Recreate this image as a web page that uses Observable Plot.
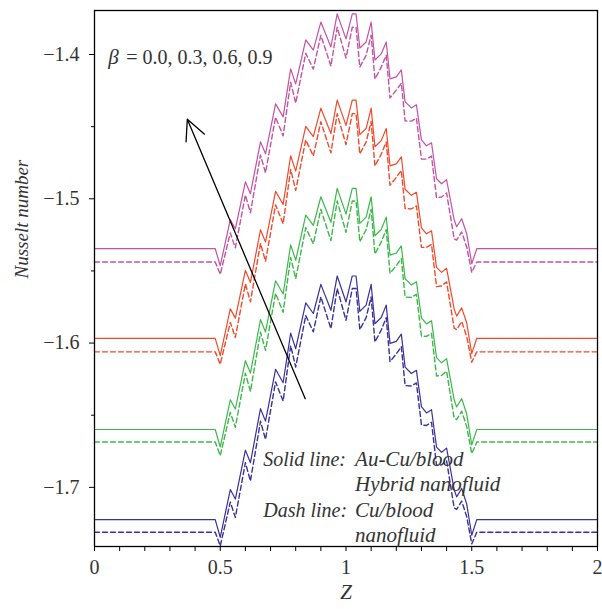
<!DOCTYPE html>
<html><head><meta charset="utf-8">
<script src="https://cdn.jsdelivr.net/npm/d3@7"></script>
<script src="https://cdn.jsdelivr.net/npm/@observablehq/plot@0.6"></script>
<style>body{margin:0;background:#fff}svg{display:block}</style>
</head><body><div id="chart"></div>
<script>
// Axial coordinate Z
const z = [0,0.48,0.50,0.54,0.56,0.60,0.62,0.66,0.68,0.72,0.75,0.78,0.80,0.84,0.87,0.90,0.94,0.965,1.00,1.025,1.04,1.055,1.08,1.10,1.115,1.14,1.16,1.175,1.20,1.22,1.235,1.26,1.28,1.30,1.32,1.34,1.36,1.38,1.40,1.43,1.44,1.46,1.48,1.50,1.52,2.0];

// beta = 0.9 (magenta)
const hybrid09 = [-1.5346,-1.5346,-1.5464,-1.5145,-1.5208,-1.4882,-1.4965,-1.4605,-1.4688,-1.4342,-1.4432,-1.4100,-1.4204,-1.3899,-1.3969,-1.3775,-1.3948,-1.3719,-1.3892,-1.3719,-1.3719,-1.3955,-1.3913,-1.3775,-1.4038,-1.3996,-1.3913,-1.4169,-1.4155,-1.4107,-1.4328,-1.4370,-1.4349,-1.4592,-1.4633,-1.4612,-1.4861,-1.4896,-1.4868,-1.5145,-1.5194,-1.5138,-1.5242,-1.5450,-1.5346,-1.5346];
const cu09 = [-1.5438,-1.5438,-1.5524,-1.5237,-1.5340,-1.4974,-1.5097,-1.4697,-1.4820,-1.4434,-1.4564,-1.4192,-1.4336,-1.3991,-1.4101,-1.3867,-1.4080,-1.3811,-1.4024,-1.3811,-1.3811,-1.4087,-1.4005,-1.3867,-1.4170,-1.4088,-1.4005,-1.4301,-1.4247,-1.4199,-1.4460,-1.4462,-1.4441,-1.4724,-1.4725,-1.4704,-1.4993,-1.4988,-1.4960,-1.5277,-1.5286,-1.5230,-1.5334,-1.5510,-1.5438,-1.5438];
// beta = 0.6 (red)
const hybrid06 = [-1.5967,-1.5967,-1.6087,-1.5763,-1.5827,-1.5496,-1.5580,-1.5215,-1.5299,-1.4948,-1.5039,-1.4702,-1.4808,-1.4498,-1.4569,-1.4372,-1.4548,-1.4316,-1.4491,-1.4316,-1.4316,-1.4555,-1.4513,-1.4372,-1.4639,-1.4597,-1.4513,-1.4772,-1.4758,-1.4709,-1.4934,-1.4976,-1.4955,-1.5202,-1.5243,-1.5222,-1.5475,-1.5510,-1.5482,-1.5763,-1.5813,-1.5756,-1.5861,-1.6073,-1.5967,-1.5967];
const cu06 = [-1.6061,-1.6061,-1.6147,-1.5857,-1.5961,-1.5590,-1.5714,-1.5309,-1.5433,-1.5042,-1.5173,-1.4796,-1.4942,-1.4592,-1.4703,-1.4466,-1.4682,-1.4410,-1.4625,-1.4410,-1.4410,-1.4689,-1.4607,-1.4466,-1.4773,-1.4691,-1.4607,-1.4906,-1.4852,-1.4803,-1.5068,-1.5070,-1.5049,-1.5336,-1.5337,-1.5316,-1.5609,-1.5604,-1.5576,-1.5897,-1.5907,-1.5850,-1.5955,-1.6133,-1.6061,-1.6061];
// beta = 0.3 (green)
const hybrid03 = [-1.6599,-1.6599,-1.6720,-1.6393,-1.6457,-1.6122,-1.6208,-1.5838,-1.5923,-1.5568,-1.5660,-1.5319,-1.5426,-1.5113,-1.5185,-1.4986,-1.5163,-1.4928,-1.5106,-1.4928,-1.4928,-1.5170,-1.5127,-1.4986,-1.5256,-1.5213,-1.5127,-1.5390,-1.5376,-1.5327,-1.5554,-1.5597,-1.5575,-1.5825,-1.5867,-1.5845,-1.6101,-1.6137,-1.6108,-1.6393,-1.6443,-1.6385,-1.6492,-1.6706,-1.6599,-1.6599];
const cu03 = [-1.6686,-1.6686,-1.6780,-1.6480,-1.6584,-1.6209,-1.6335,-1.5925,-1.6050,-1.5655,-1.5787,-1.5406,-1.5553,-1.5200,-1.5312,-1.5073,-1.5290,-1.5015,-1.5233,-1.5015,-1.5015,-1.5297,-1.5214,-1.5073,-1.5383,-1.5300,-1.5214,-1.5517,-1.5463,-1.5414,-1.5681,-1.5684,-1.5662,-1.5952,-1.5954,-1.5932,-1.6228,-1.6224,-1.6195,-1.6520,-1.6530,-1.6472,-1.6579,-1.6766,-1.6686,-1.6686];
// beta = 0.0 (blue)
const hybrid00 = [-1.7224,-1.7224,-1.7346,-1.7015,-1.7081,-1.6742,-1.6829,-1.6455,-1.6541,-1.6182,-1.6275,-1.5931,-1.6039,-1.5722,-1.5795,-1.5593,-1.5773,-1.5535,-1.5715,-1.5535,-1.5535,-1.5780,-1.5737,-1.5593,-1.5866,-1.5823,-1.5737,-1.6002,-1.5988,-1.5938,-1.6167,-1.6211,-1.6189,-1.6441,-1.6484,-1.6462,-1.6721,-1.6757,-1.6728,-1.7015,-1.7066,-1.7008,-1.7116,-1.7332,-1.7224,-1.7224];
const cu00 = [-1.7311,-1.7311,-1.7406,-1.7102,-1.7208,-1.6829,-1.6956,-1.6542,-1.6668,-1.6269,-1.6402,-1.6018,-1.6166,-1.5809,-1.5922,-1.5680,-1.5900,-1.5622,-1.5842,-1.5622,-1.5622,-1.5907,-1.5824,-1.5680,-1.5993,-1.5910,-1.5824,-1.6129,-1.6075,-1.6025,-1.6294,-1.6298,-1.6276,-1.6568,-1.6571,-1.6549,-1.6848,-1.6844,-1.6815,-1.7142,-1.7153,-1.7095,-1.7203,-1.7392,-1.7311,-1.7311];

const colors = {b09:"#c452a3", b06:"#f04a2c", b03:"#3cb84a", b00:"#3a3199"};

const xMajorTicks = [0,0.5,1,1.5,2];
const xMinorTicks = [0.1,0.2,0.3,0.4,0.6,0.7,0.8,0.9,1.1,1.2,1.3,1.4,1.6,1.7,1.8,1.9];
const yMajorTicks = [-1.7,-1.6,-1.5,-1.4];
const yMinorTicks = [-1.65,-1.55,-1.45];

const arrowData = [{x1:0.838, y1:-1.6386, x2:0.369, y2:-1.4449}];
const labelsItalic = [
  {x:0.0545, y:-1.4019, t:"β", s:21},
  {x:0.671, y:-1.6805, t:"Solid line:", s:20},
  {x:1.036, y:-1.6805, t:"Au-Cu/blood", s:21},
  {x:1.036, y:-1.6980, t:"Hybrid nanofluid", s:21},
  {x:0.671, y:-1.7160, t:"Dash line:", s:20},
  {x:1.036, y:-1.7160, t:"Cu/blood", s:21},
  {x:1.036, y:-1.7335, t:"nanofluid", s:21}
];
const labelsPlain = [{x:0.1265, y:-1.4019, t:"= 0.0, 0.3, 0.6, 0.9"}];

const rows = v => z.map((d,i)=>({z:d, v:v[i]}));
const solidLine = (v,c) => Plot.line(rows(v), {x:"z", y:"v", stroke:c, strokeWidth:1.2});
const dashLine = (v,c) => Plot.line(rows(v), {x:"z", y:"v", stroke:c, strokeWidth:1.4, strokeDasharray:"5,3"});
const minus = s => s.replace("-", "\u2212");

const chart = Plot.plot({
  width: 602, height: 609,
  marginLeft: 94, marginRight: 5, marginTop: 10, marginBottom: 63,
  x: {domain:[0,2], label:null},
  y: {domain:[-1.741,-1.3695], label:null},
  style: {fontFamily:"'Liberation Serif', serif", fontSize:"20px", color:"#333", background:"white"},
  marks: [
    dashLine(cu09, colors.b09), solidLine(hybrid09, colors.b09),
    dashLine(cu06, colors.b06), solidLine(hybrid06, colors.b06),
    dashLine(cu03, colors.b03), solidLine(hybrid03, colors.b03),
    dashLine(cu00, colors.b00), solidLine(hybrid00, colors.b00),
    Plot.frame({stroke:"black", strokeWidth:1.3}),
    Plot.axisX(xMajorTicks, {tickSize:5, tickPadding:8, stroke:"black", fill:"#333", fontSize:20, tickFormat:d=>String(d)}),
    Plot.axisX(xMinorTicks, {tickSize:5, stroke:"black", tickFormat:()=>""}),
    Plot.axisY(yMajorTicks, {tickSize:5, tickPadding:10, stroke:"black", fill:"#333", fontSize:20, tickFormat:d=>minus(d.toFixed(1))}),
    Plot.axisY(yMinorTicks, {tickSize:3, stroke:"black", tickFormat:()=>""}),
    Plot.arrow(arrowData, {x1:"x1", y1:"y1", x2:"x2", y2:"y2", stroke:"black", strokeWidth:1.3, headLength:26, headAngle:52}),
    Plot.text(labelsItalic.filter(d=>d.s===21), {x:"x", y:"y", text:"t", textAnchor:"start", fontStyle:"italic", fontSize:21, fill:"#333"}),
    Plot.text(labelsItalic.filter(d=>d.s===20), {x:"x", y:"y", text:"t", textAnchor:"start", fontStyle:"italic", fontSize:20, fill:"#333"}),
    Plot.text(labelsPlain, {x:"x", y:"y", text:"t", textAnchor:"start", fontSize:20, fill:"#333"}),
    Plot.text(["Z"], {frameAnchor:"bottom", dy:52, fontStyle:"italic", fontSize:21, fill:"#333"}),
    Plot.text(["Nusselt number"], {frameAnchor:"left", dx:-73, rotate:-90, fontStyle:"italic", fontSize:19, fill:"#333"})
  ]
});
document.getElementById("chart").appendChild(chart);
</script>
</body></html>
